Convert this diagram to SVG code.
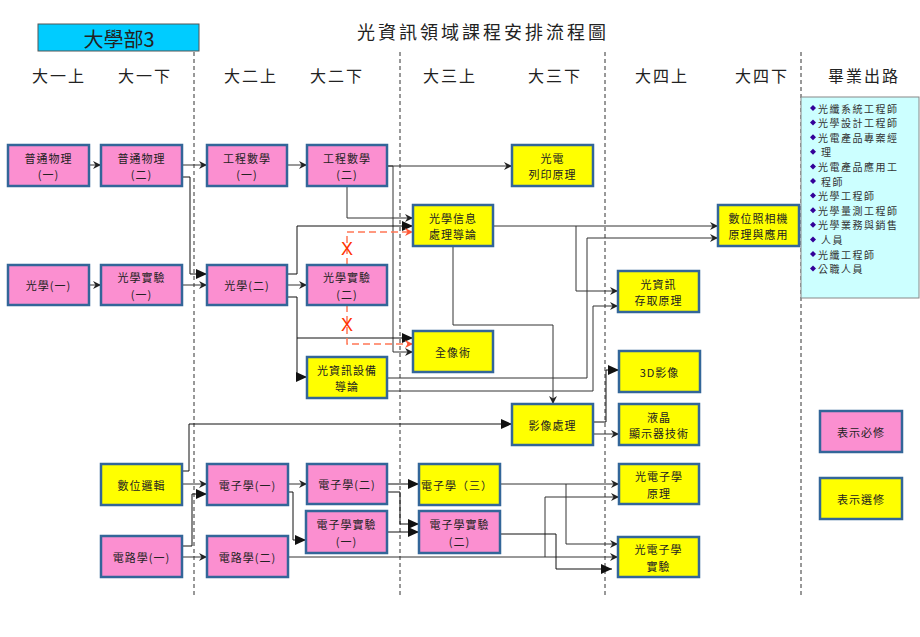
<svg xmlns="http://www.w3.org/2000/svg" width="920" height="637" viewBox="0 0 920 637">
<defs>
<marker id="a" markerUnits="userSpaceOnUse" markerWidth="9" markerHeight="8" refX="8" refY="4" orient="auto"><path d="M0,0 L8,4 L0,8 L2.5,4 z" fill="#222"/></marker>
<marker id="b" markerUnits="userSpaceOnUse" markerWidth="12" markerHeight="10" refX="11" refY="5" orient="auto"><path d="M0,0 L11,5 L0,10 z" fill="#111"/></marker>
<marker id="r" markerUnits="userSpaceOnUse" markerWidth="9" markerHeight="8" refX="8" refY="4" orient="auto"><path d="M0,0 L8,4 L0,8 L2.5,4 z" fill="#ff5533"/></marker>
</defs>
<style>
text{font-family:"Noto Sans CJK TC","Noto Sans CJK SC",sans-serif;fill:#222}
.n{stroke:#336699;stroke-width:2.5}
.p{fill:#fb8fd0}
.y{fill:#ffff00}
.t{font-size:11px;letter-spacing:1px;text-anchor:middle;dominant-baseline:central}
.h{font-size:16px;letter-spacing:2px;text-anchor:middle;dominant-baseline:central}
.ca{fill:none;stroke:#333;stroke-width:1;marker-end:url(#a)}
.cb{fill:none;stroke:#111;stroke-width:1;marker-end:url(#b)}
.rd{fill:none;stroke:#ff7755;stroke-width:1.5;stroke-dasharray:7,4;marker-end:url(#r)}
.sep{stroke:#333;stroke-width:1;stroke-dasharray:4,3}
.x{font-size:18px;fill:#ff3300;text-anchor:middle;dominant-baseline:central;font-family:"Liberation Sans",sans-serif}
.cr{font-size:10px;letter-spacing:1.5px;dominant-baseline:central;fill:#333}
</style>
<rect width="920" height="637" fill="#fff"/>
<g id="header">
<rect x="38" y="24" width="161" height="27" fill="#00ccff" stroke="#555" stroke-width="1"/>
<text x="119" y="38" font-size="20" text-anchor="middle" dominant-baseline="central">大學部3</text>
<text x="357" y="31" font-size="18" letter-spacing="3" dominant-baseline="central">光資訊領域課程安排流程圖</text>
<text class="h" x="59" y="75">大一上</text>
<text class="h" x="145" y="75">大一下</text>
<text class="h" x="251" y="75">大二上</text>
<text class="h" x="337" y="75">大二下</text>
<text class="h" x="450" y="75">大三上</text>
<text class="h" x="555" y="75">大三下</text>
<text class="h" x="662" y="75">大四上</text>
<text class="h" x="762" y="75">大四下</text>
<text class="h" x="864" y="75">畢業出路</text>
</g>
<g id="separators">
<line class="sep" x1="194" y1="52" x2="194" y2="597"/>
<line class="sep" x1="400" y1="52" x2="400" y2="597"/>
<line class="sep" x1="605" y1="52" x2="605" y2="597"/>
<line class="sep" x1="801" y1="52" x2="801" y2="597"/>
</g>
<g id="careers">
<rect x="801" y="97" width="118" height="201" fill="#ccffff" stroke="#888" stroke-width="1"/>
<g fill="#330099">
<path d="M813,105 l3,3 l-3,3 l-3,-3z"/><path d="M813,119.6 l3,3 l-3,3 l-3,-3z"/><path d="M813,134.2 l3,3 l-3,3 l-3,-3z"/><path d="M813,148.8 l3,3 l-3,3 l-3,-3z"/><path d="M813,163.4 l3,3 l-3,3 l-3,-3z"/><path d="M813,178 l3,3 l-3,3 l-3,-3z"/><path d="M813,192.6 l3,3 l-3,3 l-3,-3z"/><path d="M813,207.2 l3,3 l-3,3 l-3,-3z"/><path d="M813,221.8 l3,3 l-3,3 l-3,-3z"/><path d="M813,236.4 l3,3 l-3,3 l-3,-3z"/><path d="M813,251 l3,3 l-3,3 l-3,-3z"/><path d="M813,265.6 l3,3 l-3,3 l-3,-3z"/>
</g>
<text class="cr" x="818" y="108">光纖系統工程師</text>
<text class="cr" x="818" y="122.6">光學設計工程師</text>
<text class="cr" x="818" y="137.2">光電產品專案經</text>
<text class="cr" x="821" y="151.8">理</text>
<text class="cr" x="818" y="166.4">光電產品應用工</text>
<text class="cr" x="821" y="181">程師</text>
<text class="cr" x="818" y="195.6">光學工程師</text>
<text class="cr" x="818" y="210.2">光學量測工程師</text>
<text class="cr" x="818" y="224.8">光學業務與銷售</text>
<text class="cr" x="821" y="239.4">人員</text>
<text class="cr" x="818" y="254">光纖工程師</text>
<text class="cr" x="818" y="268.6">公職人員</text>
</g>
<g id="connectors">
<path class="ca" d="M89,165 H101"/>
<path class="ca" d="M182,165 H207"/>
<path class="cb" d="M182,177 H190 V274 H207"/>
<path class="ca" d="M89,285 H101"/>
<path class="ca" d="M182,285 H207"/>
<path class="ca" d="M287,165 H307"/>
<path class="ca" d="M387,166 H512"/>
<path class="ca" d="M347,186 V218 H413"/>
<path class="ca" d="M387,166 H393 V352 H413"/>
<path class="cb" d="M287,274 H297 V226 H413"/>
<path class="ca" d="M287,285 H307"/>
<path class="cb" d="M287,297 H297 V338 H413"/>
<path class="cb" d="M297,338 V377 H307"/>
<path class="rd" d="M347,265 V232 H413"/>
<path class="rd" d="M347,305 V344 H413"/>
<path class="ca" d="M493,226 H718"/>
<path class="ca" d="M576,226 V291 H618"/>
<path class="ca" d="M453,246 V325 H553 V404"/>
<path class="ca" d="M387,378 H587 V238 H718"/>
<path class="ca" d="M387,391 H593 V306 H618"/>
<path class="cb" d="M593,422 H606 V370 H619"/>
<path class="ca" d="M593,434 H619"/>
<path class="cb" d="M182,471 H189 V424 H512"/>
<path class="ca" d="M182,484 H207"/>
<path class="cb" d="M182,546 H192 V494 H207"/>
<path class="ca" d="M182,557 H207"/>
<path class="ca" d="M288,484 H307"/>
<path class="cb" d="M288,492 H293 V540 H306"/>
<path class="ca" d="M288,557 H618"/>
<path class="ca" d="M545,557 V497 H619"/>
<path class="cb" d="M387,484 H419"/>
<path class="cb" d="M387,492 H400 V524 H419"/>
<path class="cb" d="M387,532 H419"/>
<path class="ca" d="M500,484 H619"/>
<path class="ca" d="M566,484 V544 H618"/>
<path class="cb" d="M500,534 H556 V569 H612"/>
<text class="x" x="347" y="249">X</text>
<text class="x" x="347" y="325">X</text>
</g>
<g id="n1"><rect class="n p" x="8" y="145" width="81" height="41"/><text class="t" x="48.5" y="157.5">普通物理<tspan x="48.5" dy="16.5">(一)</tspan></text></g>
<g id="n2"><rect class="n p" x="101" y="145" width="81" height="41"/><text class="t" x="141.5" y="157.5">普通物理<tspan x="141.5" dy="16.5">(二)</tspan></text></g>
<g id="n3"><rect class="n p" x="207" y="145" width="80" height="41"/><text class="t" x="247" y="157.5">工程數學<tspan x="247" dy="16.5">(一)</tspan></text></g>
<g id="n4"><rect class="n p" x="307" y="145" width="80" height="41"/><text class="t" x="347" y="157.5">工程數學<tspan x="347" dy="16.5">(二)</tspan></text></g>
<g id="n5"><rect class="n y" x="512" y="145" width="81" height="41"/><text class="t" x="552.5" y="157.5">光電<tspan x="552.5" dy="16.5">列印原理</tspan></text></g>
<g id="n6"><rect class="n p" x="8" y="265" width="81" height="40"/><text class="t" x="48.5" y="285">光學(一)</text></g>
<g id="n7"><rect class="n p" x="101" y="265" width="81" height="40"/><text class="t" x="141.5" y="277">光學實驗<tspan x="141.5" dy="16.5">(一)</tspan></text></g>
<g id="n8"><rect class="n p" x="207" y="265" width="80" height="40"/><text class="t" x="247" y="285">光學(二)</text></g>
<g id="n9"><rect class="n p" x="307" y="265" width="80" height="40"/><text class="t" x="347" y="277">光學實驗<tspan x="347" dy="16.5">(二)</tspan></text></g>
<g id="n10"><rect class="n y" x="413" y="205" width="80" height="41"/><text class="t" x="453" y="217.5">光學信息<tspan x="453" dy="16.5">處理導論</tspan></text></g>
<g id="n11"><rect class="n y" x="718" y="205" width="81" height="41"/><text class="t" x="758.5" y="217.5">數位照相機<tspan x="758.5" dy="16.5">原理與應用</tspan></text></g>
<g id="n12"><rect class="n y" x="618" y="271" width="81" height="41"/><text class="t" x="658.5" y="283.5">光資訊<tspan x="658.5" dy="16.5">存取原理</tspan></text></g>
<g id="n13"><rect class="n y" x="413" y="331" width="80" height="41"/><text class="t" x="453" y="352">全像術</text></g>
<g id="n14"><rect class="n y" x="307" y="357" width="80" height="41"/><text class="t" x="347" y="369.5">光資訊設備<tspan x="347" dy="16.5">導論</tspan></text></g>
<g id="n15"><rect class="n y" x="619" y="351" width="81" height="41"/><text class="t" x="659.5" y="372">3D影像</text></g>
<g id="n16"><rect class="n y" x="512" y="404" width="81" height="41"/><text class="t" x="552.5" y="425">影像處理</text></g>
<g id="n17"><rect class="n y" x="619" y="404" width="80" height="41"/><text class="t" x="659" y="416.5">液晶<tspan x="659" dy="16.5">顯示器技術</tspan></text></g>
<g id="n18"><rect class="n y" x="101" y="464" width="81" height="41"/><text class="t" x="141.5" y="485">數位邏輯</text></g>
<g id="n19"><rect class="n p" x="207" y="464" width="81" height="41"/><text class="t" x="247.5" y="485">電子學(一)</text></g>
<g id="n20"><rect class="n p" x="307" y="464" width="80" height="40"/><text class="t" x="347" y="484">電子學(二)</text></g>
<g id="n21"><rect class="n y" x="419" y="464" width="81" height="41"/><text class="t" x="457" y="485">電子學（三）</text></g>
<g id="n22"><rect class="n p" x="306" y="511" width="81" height="42"/><text class="t" x="346.5" y="524">電子學實驗<tspan x="346.5" dy="16.5">(一)</tspan></text></g>
<g id="n23"><rect class="n p" x="419" y="511" width="81" height="42"/><text class="t" x="459.5" y="524">電子學實驗<tspan x="459.5" dy="16.5">(二)</tspan></text></g>
<g id="n24"><rect class="n p" x="101" y="536" width="81" height="41"/><text class="t" x="141.5" y="557">電路學(一)</text></g>
<g id="n25"><rect class="n p" x="207" y="536" width="81" height="41"/><text class="t" x="247.5" y="557">電路學(二)</text></g>
<g id="n26"><rect class="n y" x="619" y="464" width="80" height="40"/><text class="t" x="659" y="476">光電子學<tspan x="659" dy="16.5">原理</tspan></text></g>
<g id="n27"><rect class="n y" x="618" y="537" width="81" height="40"/><text class="t" x="658.5" y="549">光電子學<tspan x="658.5" dy="16.5">實驗</tspan></text></g>
<g id="legend-required"><rect class="n p" x="820" y="411" width="82" height="41"/><text class="t" x="861" y="432">表示必修</text></g>
<g id="legend-elective"><rect class="n y" x="820" y="478" width="82" height="41"/><text class="t" x="861" y="499">表示選修</text></g>
</svg>
